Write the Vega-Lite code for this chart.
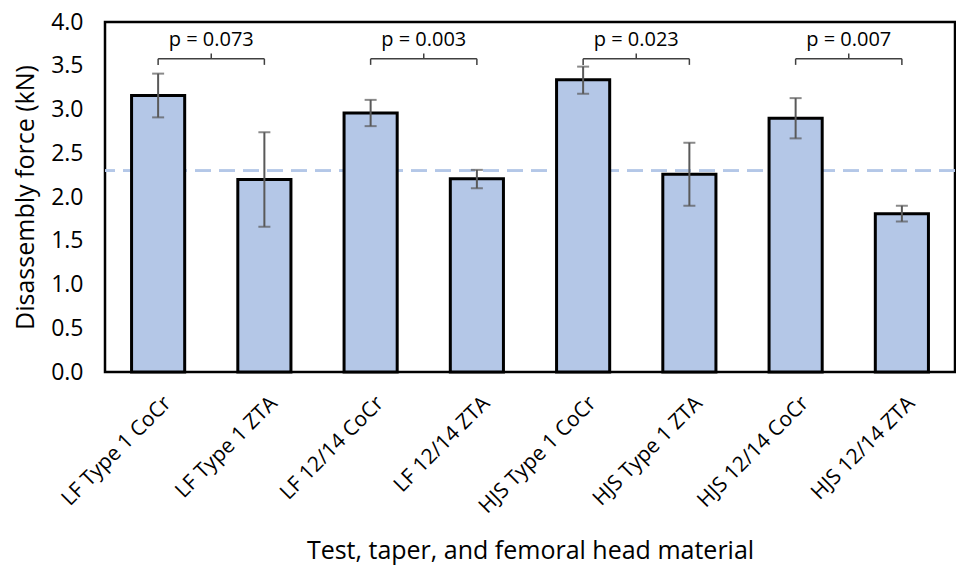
{
  "$schema": "https://vega.github.io/schema/vega-lite/v6.json",
  "width": 850,
  "height": 350,
  "autosize": {"type": "none"},
  "padding": {"left": 105, "top": 22, "right": 1, "bottom": 197},
  "background": "white",
  "config": {
    "font": "Open Sans",
    "view": {"stroke": "#000000", "strokeWidth": 2.5},
    "axis": {"labelFont": "Open Sans", "titleFont": "Open Sans", "labelColor": "#000000", "titleColor": "#000000", "titleFontWeight": "normal"}
  },
  "datasets": {
    "bars": [
      {"group": "LF Type 1 CoCr", "force": 3.16, "lo": 2.91, "hi": 3.41},
      {"group": "LF Type 1 ZTA", "force": 2.20, "lo": 1.66, "hi": 2.74},
      {"group": "LF 12/14 CoCr", "force": 2.96, "lo": 2.81, "hi": 3.11},
      {"group": "LF 12/14 ZTA", "force": 2.21, "lo": 2.10, "hi": 2.31},
      {"group": "HJS Type 1 CoCr", "force": 3.34, "lo": 3.18, "hi": 3.49},
      {"group": "HJS Type 1 ZTA", "force": 2.26, "lo": 1.90, "hi": 2.62},
      {"group": "HJS 12/14 CoCr", "force": 2.90, "lo": 2.67, "hi": 3.13},
      {"group": "HJS 12/14 ZTA", "force": 1.81, "lo": 1.72, "hi": 1.90}
    ],
    "brackets": [
      {"left": 0.5, "right": 1.5, "mid": 1, "label": "p = 0.073"},
      {"left": 2.5, "right": 3.5, "mid": 3, "label": "p = 0.003"},
      {"left": 4.5, "right": 5.5, "mid": 5, "label": "p = 0.023"},
      {"left": 6.5, "right": 7.5, "mid": 7, "label": "p = 0.007"}
    ]
  },
  "layer": [
    {
      "data": {"name": "bars"},
      "layer": [
        {
          "mark": {"type": "rule", "color": "#B4C7E7", "strokeWidth": 2, "strokeDash": [16, 8]},
          "encoding": {"y": {"datum": 2.3, "type": "quantitative"}}
        },
        {
          "mark": {"type": "bar", "fill": "#B4C7E7", "stroke": "#000000", "strokeWidth": 3},
          "encoding": {
            "x": {
              "field": "group", "type": "nominal", "sort": null,
              "scale": {"paddingInner": 0.5, "paddingOuter": 0.25},
              "axis": {
                "title": "Test, taper, and femoral head material",
                "titleFontSize": 25, "titlePadding": 22,
                "labelAngle": -45, "labelFontSize": 21, "labelPadding": 20,
                "ticks": false, "domain": false, "labelOffset": 2
              }
            },
            "y": {
              "field": "force", "type": "quantitative",
              "scale": {"domain": [0, 4], "nice": false},
              "axis": {
                "title": "Disassembly force (kN)", "titleFontSize": 25, "titlePadding": 12,
                "values": [0, 0.5, 1, 1.5, 2, 2.5, 3, 3.5, 4],
                "format": ".1f", "labelFontSize": 23, "labelPadding": 22,
                "ticks": false, "domain": false,
                "gridColor": "#D9D9D9", "gridWidth": 1.5
              }
            }
          }
        },
        {
          "mark": {"type": "rule", "color": "#595959", "strokeWidth": 2},
          "encoding": {
            "x": {"field": "group", "type": "nominal", "sort": null},
            "y": {"field": "lo", "type": "quantitative"},
            "y2": {"field": "hi"}
          }
        },
        {
          "mark": {"type": "tick", "color": "#595959", "thickness": 2, "size": 12, "orient": "horizontal"},
          "encoding": {
            "x": {"field": "group", "type": "nominal", "sort": null},
            "y": {"field": "lo", "type": "quantitative"}
          }
        },
        {
          "mark": {"type": "tick", "color": "#595959", "thickness": 2, "size": 12, "orient": "horizontal"},
          "encoding": {
            "x": {"field": "group", "type": "nominal", "sort": null},
            "y": {"field": "hi", "type": "quantitative"}
          }
        }
      ]
    },
    {
      "data": {"name": "brackets"},
      "layer": [
        {
          "mark": {"type": "rule", "color": "#404040", "strokeWidth": 1.5},
          "encoding": {
            "x": {"field": "left", "type": "quantitative", "scale": {"domain": [0, 8], "nice": false, "zero": false}, "axis": null},
            "x2": {"field": "right"},
            "y": {"datum": 3.58, "type": "quantitative"}
          }
        },
        {
          "mark": {"type": "rule", "color": "#404040", "strokeWidth": 1.5},
          "encoding": {
            "x": {"field": "left", "type": "quantitative"},
            "y": {"datum": 3.51, "type": "quantitative"},
            "y2": {"datum": 3.58}
          }
        },
        {
          "mark": {"type": "rule", "color": "#404040", "strokeWidth": 1.5},
          "encoding": {
            "x": {"field": "right", "type": "quantitative"},
            "y": {"datum": 3.51, "type": "quantitative"},
            "y2": {"datum": 3.58}
          }
        },
        {
          "mark": {"type": "rule", "color": "#404040", "strokeWidth": 1.5},
          "encoding": {
            "x": {"field": "mid", "type": "quantitative"},
            "y": {"datum": 3.58, "type": "quantitative"},
            "y2": {"datum": 3.64}
          }
        },
        {
          "mark": {"type": "text", "fontSize": 20, "color": "#000000", "baseline": "middle", "align": "center"},
          "encoding": {
            "x": {"field": "mid", "type": "quantitative"},
            "y": {"datum": 3.8, "type": "quantitative"},
            "text": {"field": "label"}
          }
        }
      ]
    }
  ],
  "resolve": {"scale": {"x": "independent"}, "axis": {"x": "independent"}}
}
